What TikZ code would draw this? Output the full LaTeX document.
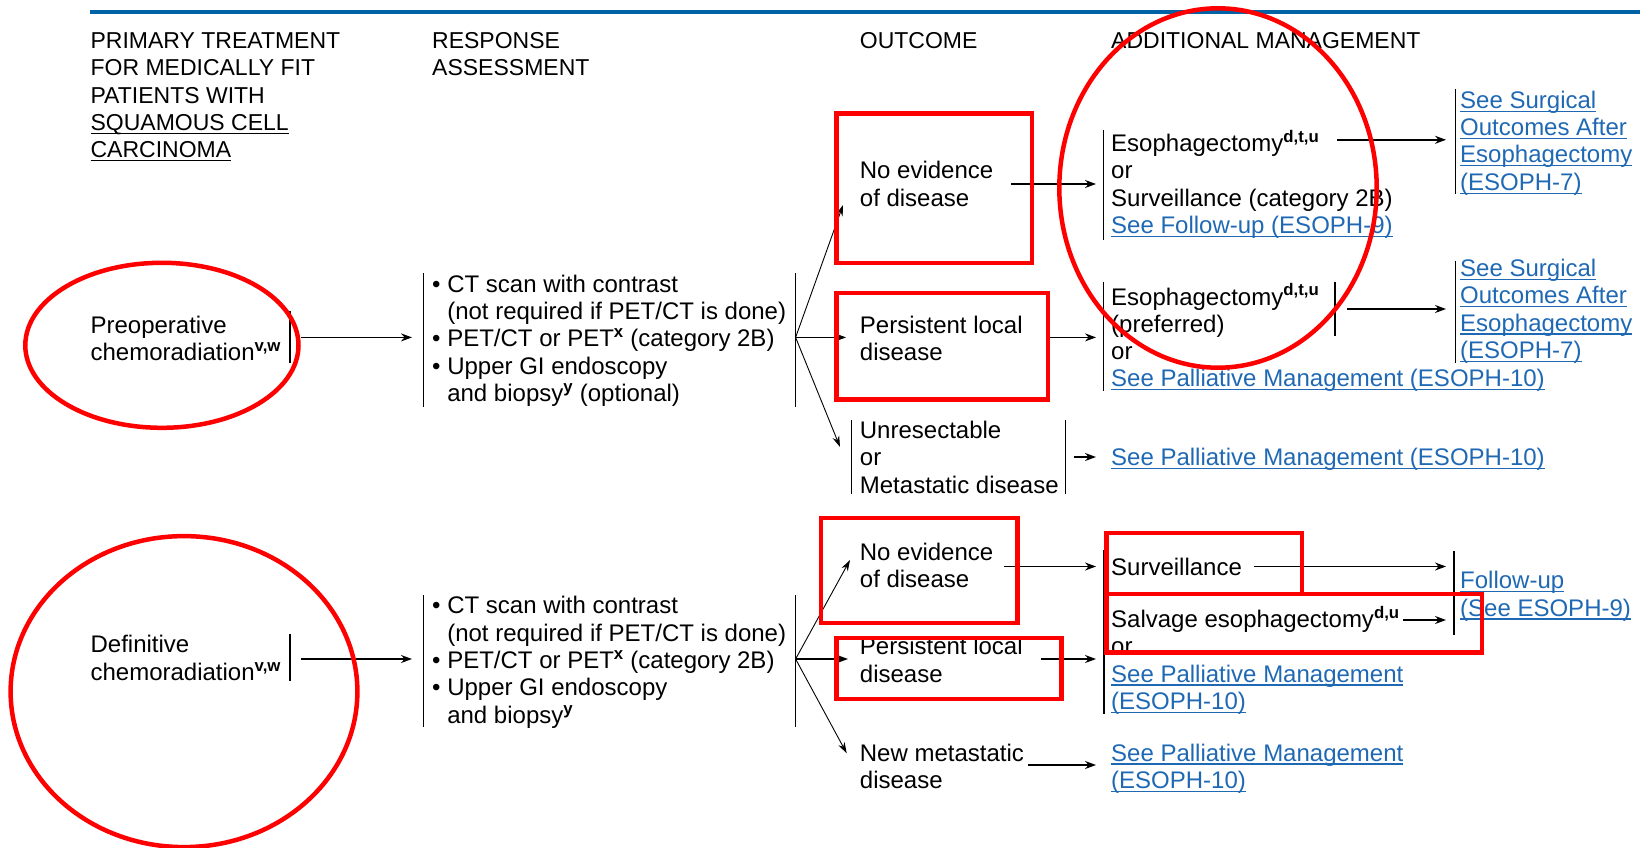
\documentclass[tikz,border=0pt]{standalone}
\usepackage{fontspec}
\setmainfont{Liberation Sans}
\usetikzlibrary{arrows.meta}
\definecolor{ncblue}{RGB}{0,99,166}
\definecolor{lnkblue}{RGB}{31,105,180}
\newsavebox\myulbox
\newcommand\uln[1]{\sbox\myulbox{#1}\rlap{\rule[-3.5pt]{\wd\myulbox}{1.2pt}}\usebox\myulbox}
\newcommand\lk[1]{\textcolor{lnkblue}{\uln{#1}}}
\newcommand\sps[1]{\textsuperscript{\bfseries #1}}
\begin{document}
% note: multi-line nodes are anchored at the baseline of their LAST line
\begin{tikzpicture}[x=1pt,y=-1pt,
  txt/.style={anchor=base west, inner sep=0pt, align=left, font=\fontsize{24}{27.3}\selectfont},
  hdr/.style={txt, font=\fontsize{23}{27.3}\selectfont},
  vbar/.style={line width=1.4pt},
  arr/.style={line width=1.4pt, -{Stealth[length=11pt,width=8pt]}},
  fan/.style={line width=0.9pt, -{Stealth[length=11pt,width=7pt]}},
  redmark/.style={draw=red, line width=4.5pt}]
\useasboundingbox (0,0) rectangle (1648,848);
% top rule
\coordinate (ruleL) at (90,12);
\coordinate (ruleR) at (1640,12);
\draw[ncblue, line width=4pt] (ruleL) -- (ruleR);
% headers
\node[hdr] (h1) at (90.4,157.6) {PRIMARY TREATMENT\\FOR MEDICALLY FIT\\PATIENTS WITH\\\uln{SQUAMOUS CELL}\\\uln{CARCINOMA}};
\node[hdr] (h2) at (432,75.7) {RESPONSE\\ASSESSMENT};
\node[hdr] (h3) at (859.7,48.4) {OUTCOME};
\node[hdr] (h4) at (1111,48.4) {ADDITIONAL MANAGEMENT};

% ===== upper pathway =====
\node[txt] (preop) at (90.4,360.6) {Preoperative\\chemoradiation\sps{v,w}};
\coordinate (pbT) at (290,311); \coordinate (pbB) at (290,362.6);
\draw[vbar] (pbT) -- (pbB);
\coordinate (pa1) at (300.6,337.4); \coordinate (pa2) at (412,337.4);
\draw[arr] (pa1) -- (pa2);

\node[txt] (assess1) at (432,401.5) {\textbullet\ CT scan with contrast\\\hspace*{15.1pt}(not required if PET/CT is done)\\\textbullet\ PET/CT or PET\sps{x} (category 2B)\\\textbullet\ Upper GI endoscopy\\\hspace*{15.1pt}and biopsy\sps{y} (optional)};
\coordinate (a1lT) at (423.6,273); \coordinate (a1lB) at (423.6,407);
\coordinate (a1rT) at (795.6,273); \coordinate (a1rB) at (795.6,407);
\draw[vbar] (a1lT) -- (a1lB);
\draw[vbar] (a1rT) -- (a1rB);
\coordinate (f1) at (795.6,337.4);
\coordinate (f1a) at (843,205); \coordinate (f1b) at (846,337.4); \coordinate (f1c) at (840,447);
\draw[fan] (f1) -- (f1a);
\draw[arr] (f1) -- (f1b);
\draw[fan] (f1) -- (f1c);

\node[txt] (ned1) at (859.7,206.1) {No evidence\\of disease};
\node[txt] (pld1) at (859.7,360.6) {Persistent local\\disease};
\node[txt] (unres) at (859.7,493) {Unresectable\\or\\Metastatic disease};
\coordinate (ulT) at (851.3,420); \coordinate (ulB) at (851.3,494);
\coordinate (urT) at (1065.7,420); \coordinate (urB) at (1065.7,494);
\draw[vbar] (ulT) -- (ulB);
\draw[vbar] (urT) -- (urB);

\coordinate (n1a) at (1011,184); \coordinate (n1b) at (1096,184);
\draw[arr] (n1a) -- (n1b);
\coordinate (p1a) at (1049,337.4); \coordinate (p1b) at (1096,337.4);
\draw[arr] (p1a) -- (p1b);
\coordinate (u1a) at (1074,457); \coordinate (u1b) at (1096,457);
\draw[arr] (u1a) -- (u1b);

\node[txt] (am1) at (1111,233.4) {Esophagectomy\sps{d,t,u}\\or\\Surveillance (category 2B)\\\lk{See Follow-up (ESOPH-9)}};
\coordinate (am1T) at (1103.6,130); \coordinate (am1B) at (1103.6,240);
\draw[vbar] (am1T) -- (am1B);
\coordinate (e1a) at (1337,139.8); \coordinate (e1b) at (1446,139.8);
\draw[arr] (e1a) -- (e1b);
\node[txt] (sso1) at (1460,190.2) {\lk{See Surgical}\\\lk{Outcomes After}\\\lk{Esophagectomy}\\\lk{(ESOPH-7)}};
\coordinate (s1T) at (1455.6,89); \coordinate (s1B) at (1455.6,194);
\draw[vbar] (s1T) -- (s1B);

\node[txt] (am2) at (1111,386.9) {Esophagectomy\sps{d,t,u}\\(preferred)\\or\\\lk{See Palliative Management (ESOPH-10)}};
\coordinate (am2T) at (1103.6,281.7); \coordinate (am2B) at (1103.6,391);
\draw[vbar] (am2T) -- (am2B);
\coordinate (am2rT) at (1334.8,281.7); \coordinate (am2rB) at (1334.8,336);
\draw[vbar] (am2rT) -- (am2rB);
\coordinate (e2a) at (1347,309); \coordinate (e2b) at (1446,309);
\draw[arr] (e2a) -- (e2b);
\node[txt] (sso2) at (1460,358.4) {\lk{See Surgical}\\\lk{Outcomes After}\\\lk{Esophagectomy}\\\lk{(ESOPH-7)}};
\coordinate (s2T) at (1455.6,260.6); \coordinate (s2B) at (1455.6,362.6);
\draw[vbar] (s2T) -- (s2B);

\node[txt] (pal1) at (1111,465.7) {\lk{See Palliative Management (ESOPH-10)}};

% ===== lower pathway =====
\node[txt] (defin) at (90.4,680.1) {Definitive\\chemoradiation\sps{v,w}};
\coordinate (dbT) at (290,633.8); \coordinate (dbB) at (290,681);
\draw[vbar] (dbT) -- (dbB);
\coordinate (da1) at (300.6,659); \coordinate (da2) at (412,659);
\draw[arr] (da1) -- (da2);

\node[txt] (assess2) at (432,723.1) {\textbullet\ CT scan with contrast\\\hspace*{15.1pt}(not required if PET/CT is done)\\\textbullet\ PET/CT or PET\sps{x} (category 2B)\\\textbullet\ Upper GI endoscopy\\\hspace*{15.1pt}and biopsy\sps{y}};
\coordinate (a2lT) at (423.6,595); \coordinate (a2lB) at (423.6,727.3);
\coordinate (a2rT) at (795.6,595); \coordinate (a2rB) at (795.6,727.3);
\draw[vbar] (a2lT) -- (a2lB);
\draw[vbar] (a2rT) -- (a2rB);
\coordinate (f2) at (795.6,659);
\coordinate (f2a) at (850,560); \coordinate (f2b) at (848,659); \coordinate (f2c) at (846.7,753.3);
\draw[fan] (f2) -- (f2a);
\draw[arr] (f2) -- (f2b);
\draw[fan] (f2) -- (f2c);

\node[txt] (ned2) at (859.7,587.6) {No evidence\\of disease};
\node[txt] (pld2) at (859.7,682.2) {Persistent local\\disease};
\node[txt] (nmd) at (859.7,788.3) {New metastatic\\disease};
\coordinate (n2a) at (1003.7,566.5); \coordinate (n2b) at (1096,566.5);
\draw[arr] (n2a) -- (n2b);
\coordinate (p2a) at (1040.5,659); \coordinate (p2b) at (1096,659);
\draw[arr] (p2a) -- (p2b);
\coordinate (m2a) at (1028,765); \coordinate (m2b) at (1096,765);
\draw[arr] (m2a) -- (m2b);

\node[txt] (surv) at (1111,575) {Surveillance};
\coordinate (sva) at (1254,566.5); \coordinate (svb) at (1446,566.5);
\draw[arr] (sva) -- (svb);
\node[txt] (salv) at (1111,709.4) {Salvage esophagectomy\sps{d,u}\\or\\\lk{See Palliative Management}\\\lk{(ESOPH-10)}};
\coordinate (sla) at (1403,620); \coordinate (slb) at (1446,620);
\draw[arr] (sla) -- (slb);
\coordinate (lbT) at (1104,550); \coordinate (lbB) at (1104,714);
\draw[vbar] (lbT) -- (lbB);
\node[txt] (fu) at (1460,616) {\lk{Follow-up}\\\lk{(See ESOPH-9)}};
\coordinate (fuT) at (1454,550.7); \coordinate (fuB) at (1454,635);
\draw[vbar] (fuT) -- (fuB);
\node[txt] (pal2) at (1111,788.3) {\lk{See Palliative Management}\\\lk{(ESOPH-10)}};

% ===== red annotations =====
\draw[redmark] (161.9,345.3) ellipse [x radius=136.6pt, y radius=82.5pt];
\draw[redmark] (184,691.6) ellipse [x radius=173.4pt, y radius=155.5pt];
\draw[redmark] (1218,188) ellipse [x radius=158.7pt, y radius=179.7pt];
\draw[redmark] (836.6,113.5) rectangle (1032,262.8);
\draw[redmark] (836.6,293.2) rectangle (1047.8,399.4);
\draw[redmark] (820.8,518) rectangle (1017.4,623);
\draw[redmark] (836.6,638) rectangle (1061.5,699);
\draw[redmark] (1106.7,532.9) rectangle (1302,593.8);
\draw[redmark] (1106.7,593.8) rectangle (1482,652.7);
\end{tikzpicture}
\end{document}
